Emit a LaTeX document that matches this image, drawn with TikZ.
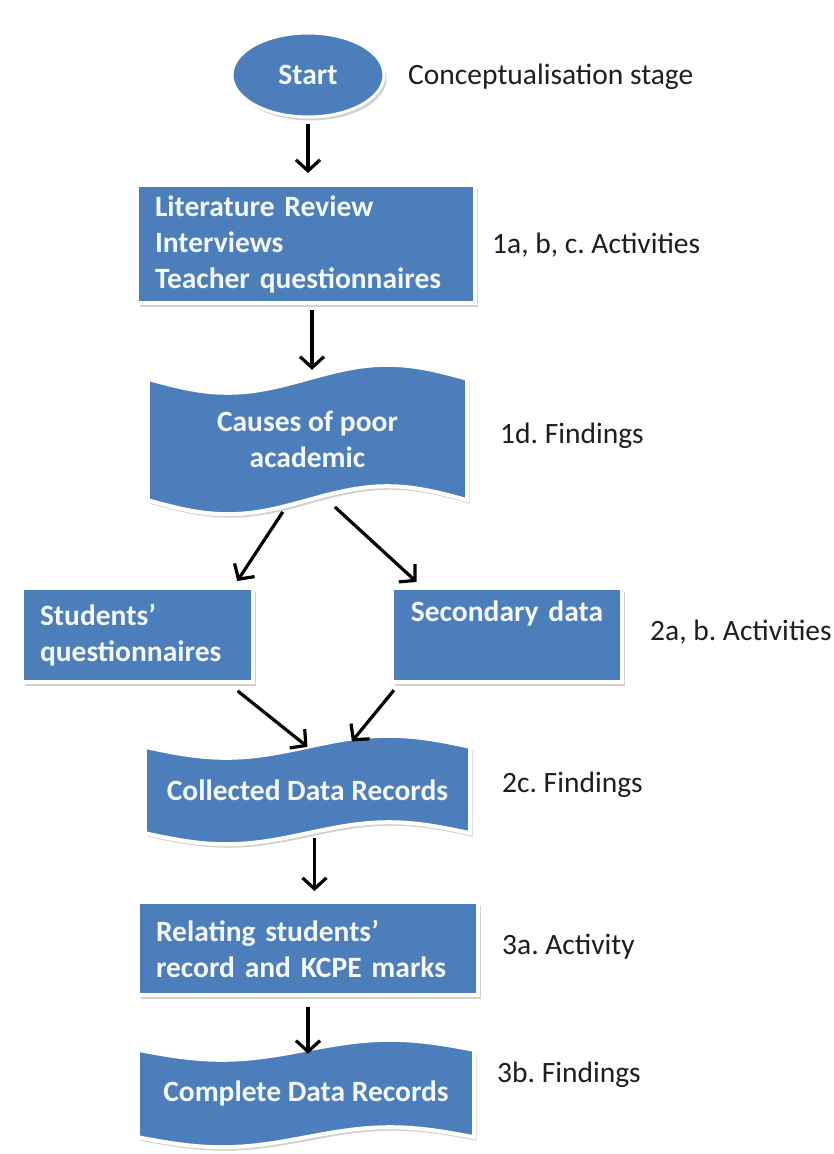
\documentclass[tikz,border=0pt]{standalone}
\usepackage{fontspec}
\setmainfont{Carlito}
\frenchspacing
\usetikzlibrary{shapes.geometric,arrows.meta,shadows,backgrounds,calc}

\definecolor{boxblue}{RGB}{76,126,188}
\definecolor{labelgray}{RGB}{30,30,30}
\definecolor{boxtext}{RGB}{245,248,252}

\tikzset{
  shapetext/.style={font=\fontsize{29.5}{36}\selectfont\bfseries, text=boxtext},
  softshadow/.style={drop shadow={shadow xshift=2.5pt,shadow yshift=-3.5pt,fill=black!45,opacity=0.4}},
  rectbox/.style={shapetext, rectangle, fill=boxblue, draw=white, line width=4pt,
    softshadow, inner xsep=18pt, inner ysep=0pt},
  startnode/.style={shapetext, ellipse, fill=boxblue, draw=white, line width=3pt,
    softshadow, minimum width=152pt, minimum height=84pt, inner sep=0pt},
  wavecore/.style={shapetext, rectangle, inner sep=0pt, align=center},
  wavefill/.style={fill=boxblue, draw=white, line width=4pt, softshadow},
  stagelabel/.style={font=\fontsize{29.5}{36}\selectfont, text=labelgray, anchor=west,
    inner sep=0pt, text height=20pt, text depth=6pt},
  flow/.style={draw=black, line width=3.2pt, -{Straight Barb[length=11pt,width=24pt]}},
}

% punched-tape outline drawn around a node: #1 node, #2 wave amplitude
\newcommand\tapeshape[2]{%
  \path[wavefill] let \p1=(#1.north west), \p2=(#1.south east), \n1={(\x2-\x1)/4} in
    (\x1,\y1) sin (\x1+\n1,\y1-#2) cos (\x1+2*\n1,\y1) sin (\x1+3*\n1,\y1+#2) cos (\x2,\y1)
    -- (\x2,\y2) sin (\x2-\n1,\y2+#2) cos (\x2-2*\n1,\y2) sin (\x2-3*\n1,\y2-#2) cos (\x1,\y2)
    -- cycle;}

\begin{document}
\begin{tikzpicture}[x=1pt,y=-1pt]
\useasboundingbox (0,0) rectangle (834,1154);

% flow shapes
\node[startnode] (start) at (308,75) {Start};

\node[rectbox, minimum width=338pt, minimum height=118pt, text width=302pt, align=left]
  (lit) at (306,244) {Literature Review\\Interviews\\Teacher questionnaires};

\node[wavecore, minimum width=319pt, minimum height=121pt] (causes) at (307.5,439.5)
  {Causes of poor\\academic};

\node[rectbox, minimum width=231pt, minimum height=94pt, text width=195pt, align=left]
  (stud) at (137.5,635) {Students'\\questionnaires};

\node[rectbox, minimum width=230pt, minimum height=94pt, text width=204pt, inner xsep=13pt, align=center]
  (sec) at (507,635) {Secondary data\\\strut};

\node[wavecore, minimum width=325pt, minimum height=86pt] (collected) at (307.5,790)
  {Collected Data Records};

\node[rectbox, minimum width=340pt, minimum height=93pt, text width=304pt, align=left]
  (relate) at (308,948.5) {Relating students'\\record and KCPE marks};

\node[wavecore, minimum width=336pt, minimum height=87pt] (complete) at (306,1093.5)
  {Complete Data Records};

\begin{pgfonlayer}{background}
  \fill[white] (0,0) rectangle (834,1154);
  \tapeshape{causes}{14pt}
  \tapeshape{collected}{11pt}
  \tapeshape{complete}{10pt}
\end{pgfonlayer}

% stage labels
\node[stagelabel] (l0) at (408,77) {Conceptualisation stage};
\node[stagelabel] (l1) at (492,246) {1a, b, c. Activities};
\node[stagelabel] (l2) at (500,436) {1d. Findings};
\node[stagelabel] (l3) at (650,633) {2a, b. Activities};
\node[stagelabel] (l4) at (502,785) {2c. Findings};
\node[stagelabel] (l5) at (502,947) {3a. Activity};
\node[stagelabel] (l6) at (497,1075) {3b. Findings};

% connectors
\draw[flow, shorten <=5pt, shorten >=10pt] (start.south) -- (start.south |- lit.north);
\draw[flow, shorten <=5pt, shorten >=9pt] ([xshift=6pt]lit.south) -- ([xshift=6pt]lit.south |- causes.north);
\draw[flow, shorten <=14pt, shorten >=6pt] ([xshift=-17pt]causes.south) -- ([xshift=-21pt]stud.north east);
\draw[flow, shorten <=10pt, shorten >=6pt] ([xshift=20pt]causes.south) -- ([xshift=31pt]sec.north west);
\draw[flow, shorten <=11pt, shorten >=0pt] ([xshift=-26pt]stud.south east) -- (collected.north);
\draw[flow, shorten <=8pt, shorten >=7pt] ([xshift=9pt]sec.south west) -- ([xshift=40pt]collected.north);
\draw[flow, shorten <=5pt, shorten >=9pt] ([xshift=7pt]collected.south) -- ([xshift=7pt]collected.south |- relate.north);
\draw[flow, shorten <=10pt, shorten >=-4pt] (relate.south) -- (relate.south |- complete.north);
\end{tikzpicture}
\end{document}
